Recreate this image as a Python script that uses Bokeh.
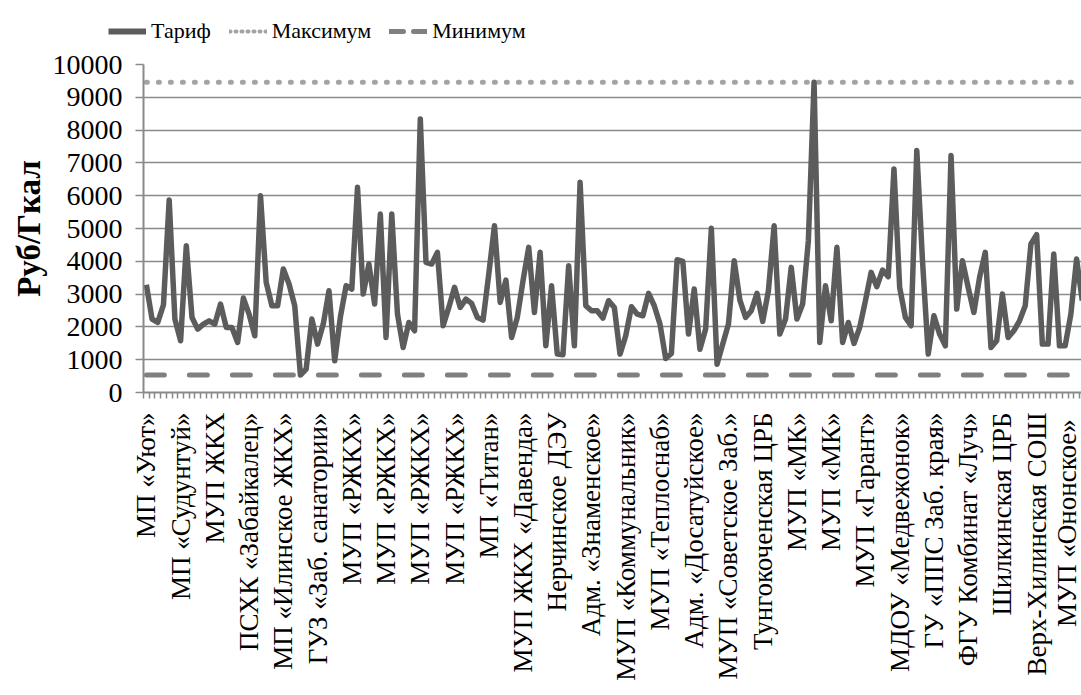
import math
from bokeh.plotting import figure
from bokeh.models import FixedTicker, Range1d, Legend, LegendItem
from bokeh.embed import file_html
from bokeh.resources import INLINE

# ---- data ----
tariff = [
    3286, 2238, 2136, 2675, 5870, 2238, 1577, 4476, 2289, 1933,
    2085, 2187, 2085, 2696, 1984, 1984, 1526, 2879, 2391, 1729,
    6002, 3357, 2645, 2645, 3764, 3306, 2645, 530, 712, 2238,
    1475, 2085, 3103, 966, 2300, 3255, 3153, 6256, 3001, 3916,
    2696, 5442, 1679, 5442, 2391, 1373, 2136, 1882, 8342, 3967,
    3916, 4273, 2035, 2594, 3205, 2594, 2848, 2716, 2289, 2208,
    3611, 5086, 2747, 3428, 1679, 2289, 3408, 4425, 2441, 4273,
    1424, 3255, 1170, 1150, 3866, 1424, 6409, 2645, 2492, 2492,
    2269, 2798, 2594, 1170, 1729, 2614, 2391, 2340, 3021, 2645,
    2085, 1038, 1190, 4049, 3998, 1780, 3154, 1322, 1933, 5005,
    865, 1475, 2085, 4018, 2818, 2289, 2492, 3021, 2167, 3103,
    5086, 1780, 2238, 3815, 2238, 2696, 4629, 9460, 1526, 3255,
    2187, 4425, 1526, 2136, 1495, 1984, 2798, 3662, 3225, 3734,
    3530, 6816, 3205, 2289, 2035, 7375, 4018, 1170, 2340, 1780,
    1424, 7223, 2543, 4018, 3205, 2441, 3510, 4273, 1373, 1577,
    3001, 1679, 1882, 2187, 2645, 4527, 4812, 1475, 1475, 4222,
    1424, 1424, 2391, 4069, 2800,
]
max_value = 9460
min_value = 530

labels = [
    "МП «Уют»", "МП «Судунтуй»", "МУП ЖКХ", "ПСХК «Забайкалец»",
    "МП «Илинское ЖКХ»", "ГУЗ «Заб. санатории»", "МУП «РЖКХ»", "МУП «РЖКХ»",
    "МУП «РЖКХ»", "МУП «РЖКХ»", "МП «Титан»", "МУП ЖКХ «Давенда»",
    "Нерчинское ДЭУ", "Адм. «Знаменское»", "МУП «Коммунальник»", "МУП «Теплоснаб»",
    "Адм. «Досатуйское»", "МУП «Советское Заб.»", "Тунгокоченская ЦРБ", "МУП «МК»",
    "МУП «МК»", "МУП «Гарант»", "МДОУ «Медвежонок»", "ГУ «ППС Заб. края»",
    "ФГУ Комбинат «Луч»", "Шилкинская ЦРБ", "Верх-Хилинская СОШ", "МУП  «Ононское»",
]
label_step = 6
y_ticks = [0, 1000, 2000, 3000, 4000, 5000, 6000, 7000, 8000, 9000, 10000]

n = len(tariff)
xs = list(range(n))
label_pos = [i * label_step for i in range(len(labels))]

FONT = "Liberation Serif"
GRID = "#8a8a8a"
C_T, C_MAX, C_MIN = "#5c5c5c", "#a3a3a3", "#808080"

# ---- main chart ----
p = figure(width=1081, height=647, output_backend="svg", toolbar_location=None,
           x_range=Range1d(-0.5, 163.86), y_range=Range1d(0, 10000),
           min_border_left=143, min_border_right=0, min_border_top=16,
           min_border_bottom=303)
p.outline_line_color = None
p.background_fill_color = "white"
p.border_fill_color = "white"

p.xgrid.grid_line_color = None
p.ygrid.ticker = FixedTicker(ticks=y_ticks[1:])
p.ygrid.grid_line_color = GRID
p.ygrid.grid_line_width = 1.5

p.yaxis.ticker = FixedTicker(ticks=y_ticks)
p.yaxis.axis_line_color = GRID
p.yaxis.axis_line_width = 2
p.yaxis.major_tick_line_color = GRID
p.yaxis.major_tick_line_width = 1.5
p.yaxis.major_tick_out = 8
p.yaxis.major_tick_in = 0
p.yaxis.minor_tick_line_color = None
p.yaxis.major_label_text_font = FONT
p.yaxis.major_label_text_font_size = "28px"
p.yaxis.major_label_text_color = "black"
p.yaxis.major_label_standoff = 13
p.yaxis.axis_label = "Руб/Гкал"
p.yaxis.axis_label_text_font = FONT
p.yaxis.axis_label_text_font_size = "33px"
p.yaxis.axis_label_text_font_style = "bold"
p.yaxis.axis_label_text_color = "black"
p.yaxis.axis_label_standoff = 3

p.xaxis.ticker = FixedTicker(ticks=label_pos,
                             minor_ticks=[i - 0.5 for i in range(n + 1)])
p.xaxis.major_label_overrides = {pos: lab for pos, lab in zip(label_pos, labels)}
p.xaxis.major_label_orientation = math.pi / 2
p.xaxis.axis_line_color = GRID
p.xaxis.axis_line_width = 2
p.xaxis.major_tick_out = 0
p.xaxis.major_tick_in = 0
p.xaxis.minor_tick_line_color = GRID
p.xaxis.minor_tick_line_width = 1.5
p.xaxis.minor_tick_out = 6
p.xaxis.minor_tick_in = 0
p.xaxis.major_label_text_font = FONT
p.xaxis.major_label_text_font_size = "27px"
p.xaxis.major_label_text_color = "black"
p.xaxis.major_label_standoff = 14

p.line(xs, [min_value] * n, line_color=C_MIN, line_width=5,
       line_dash="18 25", line_cap="round")
p.line(xs, [max_value] * n, line_color=C_MAX, line_width=5,
       line_dash="1 11", line_cap="round")
p.line(xs, tariff, line_color=C_T, line_width=5.5, line_join="round")

# ---- legend strip above the chart (separate root, no frame alignment) ----
nan = float("nan")
lg = figure(width=1081, height=48, output_backend="svg", toolbar_location=None,
            x_range=Range1d(0, 1), y_range=Range1d(0, 1),
            min_border_left=0, min_border_right=0, min_border_top=0,
            min_border_bottom=0)
lg.axis.visible = False
lg.grid.grid_line_color = None
lg.outline_line_color = None
lg.background_fill_color = "white"
lg.border_fill_color = "white"
lg_t = lg.line([nan], [nan], line_color=C_T, line_width=6)
lg_max = lg.line([nan], [nan], line_color=C_MAX, line_width=4, line_dash="1 5",
                 line_cap="round")
lg_min = lg.line([nan], [nan], line_color=C_MIN, line_width=5, line_dash="14 10",
                 line_cap="round")
legend = Legend(items=[LegendItem(label="Тариф", renderers=[lg_t]),
                       LegendItem(label="Максимум", renderers=[lg_max]),
                       LegendItem(label="Минимум", renderers=[lg_min])],
                orientation="horizontal", location=(108, 4),
                border_line_color=None, background_fill_alpha=0,
                padding=0, margin=0, spacing=18, glyph_width=38,
                label_standoff=5, label_text_font=FONT,
                label_text_font_size="22px", label_text_color="black")
lg.add_layout(legend, "center")

open("out.html", "w").write(file_html([lg, p], INLINE))
